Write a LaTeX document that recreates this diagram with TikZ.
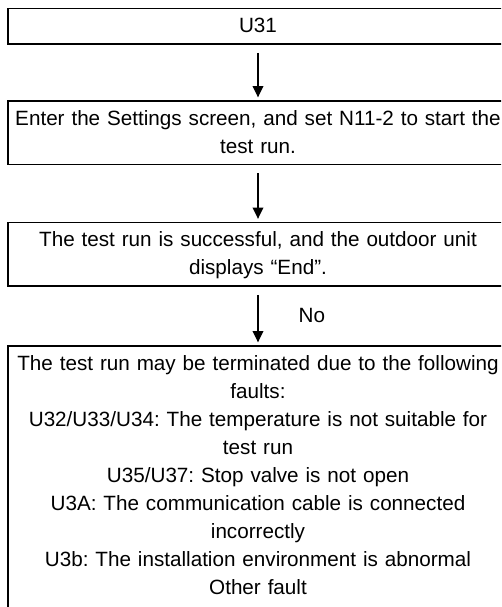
\documentclass[tikz,border=0pt]{standalone}
\usepackage{fontspec}
\setmainfont{Liberation Sans}
\usetikzlibrary{arrows.meta}
\frenchspacing

\newcommand{\boxlines}[2][8.25pt]{\rule{0pt}{18.4pt}#2\rule[-#1]{0pt}{0pt}}

\begin{document}
\begin{tikzpicture}[x=0.75pt,y=-0.75pt]
\tikzset{
  flowbox/.style={draw=black,line width=1.3pt,anchor=north,inner xsep=3.5pt,inner ysep=0pt,text width=368pt,align=center,font=\fontsize{15.5}{21}\selectfont},
  flowarrow/.style={draw=black,line width=1pt,shorten <=6pt,shorten >=2pt,-{Triangle[length=8.5pt,width=8pt]}},
  flowlabel/.style={anchor=west,inner sep=0pt,xshift=30pt,font=\fontsize{15.5}{21}\selectfont}
}
\useasboundingbox (0,0) rectangle (501,607);
\fill[white] (0,0) rectangle (501,607);
\clip (0,0) rectangle (501,607);
\node[flowbox] (n_start) at (258,7.5) {\boxlines{U31}};
\node[flowbox] (n_test) at (258,100) {\boxlines{Enter the Settings screen, and set N11-2 to start the\\ test run.}};
\node[flowbox] (n_done) at (258,221.5) {\boxlines{The test run is successful, and the outdoor unit\\ displays “End”.}};
\node[flowbox] (n_fault) at (258,345) {\boxlines[30pt]{The test run may be terminated due to the following\\ faults:\\ U32/U33/U34: The temperature is not suitable for\\ test run\\ U35/U37: Stop valve is not open\\ U3A: The communication cable is connected\\ incorrectly\\ U3b: The installation environment is abnormal\\ Other fault}};
\draw[flowarrow] (n_start) -- (n_test);
\draw[flowarrow] (n_test) -- (n_done);
\draw[flowarrow] (n_done) -- node[flowlabel] {No} (n_fault);
\end{tikzpicture}
\end{document}
